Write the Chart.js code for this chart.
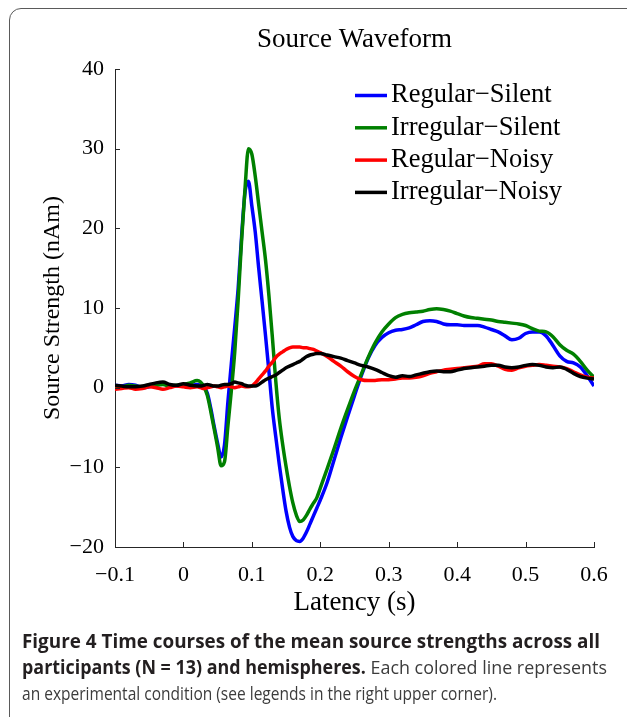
<!DOCTYPE html>
<html>
<head>
<meta charset="utf-8">
<script src="https://cdn.jsdelivr.net/npm/chart.js@4.4.0/dist/chart.umd.min.js"></script>
<style>
  body { margin: 0; background: #fff; }
  #wrap { position: relative; width: 627px; height: 717px; overflow: hidden; }
  #frame { position: absolute; left: 9px; top: 8px; width: 640px; height: 740px; border: 1.5px solid #5a5a5a; border-radius: 12px; }
  #chartBox { position: absolute; left: 0; top: 0; width: 627px; height: 717px; }
  #caption { position: absolute; left: 22px; top: 628px; font-family: 'Open Sans', sans-serif; font-size: 19px; line-height: 26px; color: #3c3c3c; }
  #caption div { white-space: nowrap; transform-origin: 0 50%; width: max-content; }
  #caption b { color: #231f20; }
</style>
</head>
<body>
<div id="wrap">
  <div id="frame"></div>
  <div id="chartBox"><canvas id="chart"></canvas></div>
  <div id="caption">
    <div><b>Figure 4 Time courses of the mean source strengths across all</b></div>
    <div><b>participants (N = 13) and hemispheres.</b> Each colored line represents</div>
    <div>an experimental condition (see legends in the right upper corner).</div>
  </div>
</div>
<script>
// latency in seconds (denser sampling around the fast deflections)
const latency = [
  -0.1, -0.09, -0.08, -0.07, -0.06, -0.05, -0.04, -0.03, -0.02, -0.01, 0, 0.01, 0.02,
  0.025, 0.03, 0.035, 0.04, 0.045, 0.05, 0.055, 0.06, 0.065, 0.07, 0.075, 0.08, 0.085, 0.09, 0.095,
  0.1, 0.105, 0.11, 0.115, 0.12, 0.125, 0.13, 0.135, 0.14, 0.145, 0.15, 0.155, 0.16, 0.165, 0.17,
  0.175, 0.18, 0.185, 0.19, 0.195, 0.2,
  0.21, 0.22, 0.23, 0.24, 0.25, 0.26, 0.27, 0.28, 0.29, 0.3, 0.31, 0.32, 0.33, 0.34, 0.35, 0.36,
  0.37, 0.38, 0.39, 0.4, 0.41, 0.42, 0.43, 0.44, 0.45, 0.46, 0.47, 0.48, 0.49, 0.5, 0.51, 0.52,
  0.53, 0.54, 0.55, 0.56, 0.57, 0.58, 0.59, 0.6
];

const regularSilent = [
  0.3, 0.2, 0.4, 0.3, 0.0, 0.1, 0.4, 0.5, 0.3, 0.2, 0.4, 0.3, 0.4,
  0.3, 0.1, -0.7, -2.6, -4.9, -7.0, -8.7, -7.2, -1.8, 3.0, 7.6, 12.5, 19.0, 24.5, 25.9,
  22.8, 19.5, 15.0, 10.8, 6.5, 2.0, -2.7, -6.2, -9.6, -12.7, -15.5, -17.5, -18.7, -19.2, -19.3,
  -18.9, -18.1, -17.1, -16.1, -15.1, -14.1,
  -11.9, -9.1, -6.3, -3.6, -1.0, 1.5, 3.7, 5.3, 6.3, 6.9, 7.2, 7.3, 7.5, 7.9, 8.3, 8.4,
  8.3, 8.0, 7.9, 7.9, 7.8, 7.8, 7.8, 7.6, 7.3, 7.0, 6.5, 6.0, 6.2, 6.8, 7.0, 7.0,
  6.5, 5.3, 4.0, 3.3, 3.1, 2.6, 1.5, 0.2
];

const irregularSilent = [
  0.2, 0.1, 0.3, 0.2, 0.1, 0.2, 0.3, 0.4, 0.2, 0.3, 0.4, 0.6, 0.9,
  0.7, 0.1, -1.0, -3.0, -5.2, -7.5, -9.8, -9.3, -4.8, -0.4, 4.5, 11.0, 18.5, 25.0, 30.0,
  29.3, 26.5, 23.0, 19.5, 16.0, 11.5, 6.3, 0.8, -3.8, -7.1, -9.9, -12.4, -14.5, -16.0, -16.8,
  -16.6, -16.0, -15.2, -14.5, -13.8, -12.6,
  -10.2, -7.7, -5.1, -2.7, -0.4, 1.7, 3.8, 5.6, 7.0, 8.0, 8.8, 9.2, 9.4, 9.5, 9.6, 9.8,
  9.9, 9.8, 9.6, 9.3, 9.0, 8.8, 8.7, 8.6, 8.5, 8.3, 8.2, 8.1, 8.0, 7.8, 7.4, 7.1,
  7.0, 6.4, 5.4, 4.7, 4.2, 3.3, 2.2, 1.3
];

const regularNoisy = [
  -0.2, -0.1, 0.0, -0.2, -0.1, 0.1, 0.0, -0.2, 0.0, 0.2, 0.1, 0.0, 0.1,
  0.0, -0.1, 0.0, 0.1, 0.2, 0.1, 0.0, 0.1, 0.2, 0.1, 0.0, 0.1, 0.2, 0.1, 0.1,
  0.2, 0.6, 1.1, 1.6, 2.1, 2.7, 3.2, 3.8, 4.2, 4.5, 4.8, 5.0, 5.1, 5.1, 5.1,
  5.0, 5.0, 4.9, 4.8, 4.6, 4.4,
  3.9, 3.3, 2.7, 2.0, 1.4, 1.0, 0.9, 0.9, 1.0, 1.0, 1.1, 1.2, 1.2, 1.3, 1.5, 1.8,
  2.0, 2.2, 2.3, 2.4, 2.5, 2.6, 2.7, 3.0, 3.0, 2.7, 2.3, 2.2, 2.5, 2.7, 2.8, 2.9,
  2.8, 2.7, 2.6, 2.4, 2.0, 1.6, 1.3, 1.2
];

const irregularNoisy = [
  0.3, 0.2, 0.1, 0.1, 0.2, 0.4, 0.6, 0.7, 0.4, 0.3, 0.5, 0.3, 0.2,
  0.2, 0.3, 0.4, 0.3, 0.2, 0.2, 0.3, 0.4, 0.4, 0.5, 0.7, 0.6, 0.5, 0.3, 0.2,
  0.2, 0.2, 0.4, 0.7, 1.0, 1.2, 1.4, 1.6, 1.9, 2.2, 2.5, 2.7, 2.9, 3.1, 3.3,
  3.6, 3.9, 4.1, 4.2, 4.3, 4.3,
  4.1, 3.9, 3.7, 3.4, 3.1, 2.8, 2.6, 2.3, 1.9, 1.5, 1.3, 1.5, 1.4, 1.6, 1.8, 2.0,
  2.1, 2.0, 2.0, 2.2, 2.4, 2.5, 2.6, 2.7, 2.8, 2.8, 2.6, 2.5, 2.6, 2.8, 2.9, 2.8,
  2.6, 2.5, 2.6, 2.3, 1.8, 1.4, 1.2, 1.1
];

const seriesNames = ['Regular\u2212Silent', 'Irregular\u2212Silent', 'Regular\u2212Noisy', 'Irregular\u2212Noisy'];
const seriesColors = ['#0000ff', '#008000', '#ff0000', '#000000'];
const seriesValues = [regularSilent, irregularSilent, regularNoisy, irregularNoisy];

const serif = "'Liberation Serif', 'Times New Roman', serif";
const axisColor = '#262626';

const toPoints = (vals) => vals.map((v, i) => ({ x: latency[i], y: v }));
const minus = (s) => s.replace('-', '\u2212');

// MATLAB style ticks pointing into the axes
const innerTicks = {
  id: 'innerTicks',
  afterDraw(chart) {
    const { ctx, chartArea: a, scales: { x, y } } = chart;
    ctx.save();
    ctx.strokeStyle = axisColor;
    ctx.lineWidth = 1;
    ctx.beginPath();
    x.ticks.forEach((t) => {
      const px = Math.round(x.getPixelForValue(t.value)) + 0.5;
      ctx.moveTo(px, a.bottom);
      ctx.lineTo(px, a.bottom - 5);
    });
    y.ticks.forEach((t) => {
      const py = Math.round(y.getPixelForValue(t.value)) + 0.5;
      ctx.moveTo(a.left, py);
      ctx.lineTo(a.left + 5, py);
    });
    ctx.stroke();
    ctx.restore();
  }
};

// legend box in the upper right corner of the axes
const cornerLegend = {
  id: 'cornerLegend',
  afterDraw(chart) {
    const { ctx, chartArea: a } = chart;
    ctx.save();
    ctx.font = `26.5px ${serif}`;
    ctx.textBaseline = 'middle';
    ctx.textAlign = 'left';
    chart.data.datasets.forEach((ds, i) => {
      const y = a.top + 26.5 + i * 32.3;
      const x0 = a.right - 239;
      ctx.strokeStyle = ds.borderColor;
      ctx.lineWidth = 3.5;
      ctx.beginPath();
      ctx.moveTo(x0, y);
      ctx.lineTo(x0 + 32, y);
      ctx.stroke();
      ctx.fillStyle = '#000';
      ctx.fillText(ds.label, x0 + 36, y);
    });
    ctx.restore();
  }
};

const datasets = seriesNames.map((name, i) => ({
  label: name,
  data: toPoints(seriesValues[i]),
  borderColor: seriesColors[i],
  backgroundColor: seriesColors[i],
  borderWidth: 3.5,
  pointRadius: 0,
  cubicInterpolationMode: 'monotone',
  order: seriesNames.length - 1 - i
}));

new Chart(document.getElementById('chart'), {
  type: 'line',
  data: { datasets },
  options: {
    responsive: true,
    maintainAspectRatio: false,
    animation: false,
    layout: { padding: { left: 0, right: 33, top: 0, bottom: 87 } },
    plugins: {
      legend: { display: false },
      tooltip: { enabled: false },
      title: {
        display: true,
        text: 'Source Waveform',
        fullSize: false,
        color: '#000',
        font: { family: serif, size: 27, weight: 'normal', lineHeight: 1.2 },
        padding: { top: 24, bottom: 12.6 }
      }
    },
    scales: {
      x: {
        type: 'linear',
        min: -0.1,
        max: 0.6,
        grid: { display: false, drawTicks: false },
        border: { display: true, color: axisColor, width: 1 },
        ticks: {
          stepSize: 0.1,
          padding: 15,
          autoSkip: false,
          maxRotation: 0,
          color: '#000',
          font: { family: serif, size: 22 },
          callback: (v) => {
            const r = Math.round(v * 10) / 10;
            return r === 0 ? '0' : minus(r.toFixed(1));
          }
        },
        title: {
          display: true,
          text: 'Latency (s)',
          color: '#000',
          font: { family: serif, size: 27 },
          padding: { top: 0, bottom: 10.8 }
        },
        afterFit: (s) => { s.height = 83; }
      },
      y: {
        min: -20,
        max: 40,
        grid: { display: false, drawTicks: false },
        border: { display: true, color: axisColor, width: 1 },
        ticks: {
          stepSize: 10,
          padding: 11,
          color: '#000',
          font: { family: serif, size: 22 },
          callback: (v) => minus(String(v))
        },
        title: {
          display: true,
          text: 'Source Strength (nAm)',
          color: '#000',
          font: { family: serif, size: 24 },
          padding: { top: 38, bottom: 0 }
        },
        afterFit: (s) => { s.width = 115; }
      }
    }
  },
  plugins: [innerTicks, cornerLegend]
});

// squeeze caption lines to the widths of the printed figure caption
const captionWidths = [578, 585, 475];
document.fonts.ready.then(() => {
  document.querySelectorAll('#caption div').forEach((el, i) => {
    const w = el.getBoundingClientRect().width;
    el.style.transform = `scaleX(${captionWidths[i] / w})`;
  });
});
</script>
</body>
</html>
